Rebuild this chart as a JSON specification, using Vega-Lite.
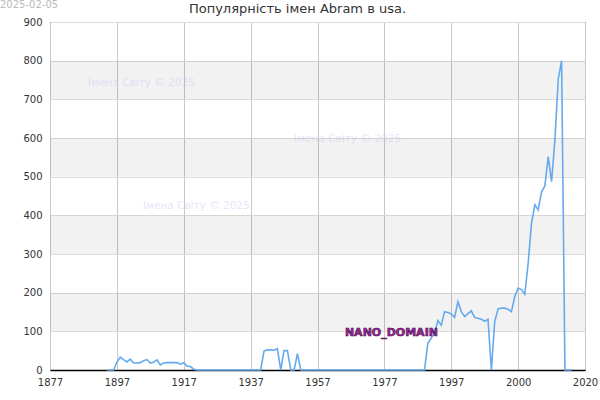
{
  "$schema": "https://vega.github.io/schema/vega-lite/v6.json",
  "autosize": {"type": "none"},
  "width": 535,
  "height": 348,
  "padding": {"left": 50, "top": 22, "right": 15, "bottom": 30},
  "background": "#ffffff",
  "title": {"text": "Популярність імен Abram в usa.", "fontSize": 13, "fontWeight": "normal", "color": "#333333", "dx": -20, "dy": 22, "offset": 6},
  "config": {
    "font": "DejaVu Sans",
    "view": {"stroke": "#000000", "strokeWidth": 1},
    "axis": {"labelFont": "DejaVu Sans", "labelFontSize": 10, "labelColor": "#333333", "ticks": false, "title": null},
    "axisY": {"labelOverlap": false, "labelFlush": false, "labelBound": false, "values": [0, 100, 200, 300, 400, 500, 600, 700, 800, 900], "gridColor": "#dddddd", "domain": false, "labelPadding": 8}
  },
  "datasets": {
    "series": [
      {"year": 1894, "value": 0}, {"year": 1895, "value": 0}, {"year": 1896, "value": 0}, {"year": 1897, "value": 20},
      {"year": 1898, "value": 33}, {"year": 1899, "value": 27}, {"year": 1900, "value": 21}, {"year": 1901, "value": 28},
      {"year": 1902, "value": 18}, {"year": 1903, "value": 18}, {"year": 1904, "value": 19}, {"year": 1905, "value": 24},
      {"year": 1906, "value": 27}, {"year": 1907, "value": 18}, {"year": 1908, "value": 20}, {"year": 1909, "value": 26},
      {"year": 1910, "value": 13}, {"year": 1911, "value": 18}, {"year": 1912, "value": 19}, {"year": 1913, "value": 19},
      {"year": 1914, "value": 19}, {"year": 1915, "value": 19}, {"year": 1916, "value": 15}, {"year": 1917, "value": 19},
      {"year": 1918, "value": 10}, {"year": 1919, "value": 9}, {"year": 1920, "value": 2}, {"year": 1921, "value": 0},
      {"year": 1922, "value": 0}, {"year": 1923, "value": 0}, {"year": 1924, "value": 0}, {"year": 1925, "value": 0},
      {"year": 1926, "value": 0}, {"year": 1927, "value": 0}, {"year": 1928, "value": 0}, {"year": 1929, "value": 0},
      {"year": 1930, "value": 0}, {"year": 1931, "value": 0}, {"year": 1932, "value": 0}, {"year": 1933, "value": 0},
      {"year": 1934, "value": 0}, {"year": 1935, "value": 0}, {"year": 1936, "value": 0}, {"year": 1937, "value": 0},
      {"year": 1938, "value": 0}, {"year": 1939, "value": 0}, {"year": 1940, "value": 0}, {"year": 1941, "value": 49},
      {"year": 1942, "value": 52}, {"year": 1943, "value": 52}, {"year": 1944, "value": 51}, {"year": 1945, "value": 55},
      {"year": 1946, "value": 0}, {"year": 1947, "value": 50}, {"year": 1948, "value": 50}, {"year": 1949, "value": 0},
      {"year": 1950, "value": 0}, {"year": 1951, "value": 42}, {"year": 1952, "value": 0}, {"year": 1953, "value": 0},
      {"year": 1954, "value": 0}, {"year": 1955, "value": 0}, {"year": 1956, "value": 0}, {"year": 1957, "value": 0},
      {"year": 1958, "value": 0}, {"year": 1959, "value": 0}, {"year": 1960, "value": 0}, {"year": 1961, "value": 0},
      {"year": 1962, "value": 0}, {"year": 1963, "value": 0}, {"year": 1964, "value": 0}, {"year": 1965, "value": 0},
      {"year": 1966, "value": 0}, {"year": 1967, "value": 0}, {"year": 1968, "value": 0}, {"year": 1969, "value": 0},
      {"year": 1970, "value": 0}, {"year": 1971, "value": 0}, {"year": 1972, "value": 0}, {"year": 1973, "value": 0},
      {"year": 1974, "value": 0}, {"year": 1975, "value": 0}, {"year": 1976, "value": 0}, {"year": 1977, "value": 0},
      {"year": 1978, "value": 0}, {"year": 1979, "value": 0}, {"year": 1980, "value": 0}, {"year": 1981, "value": 0},
      {"year": 1982, "value": 0}, {"year": 1983, "value": 0}, {"year": 1984, "value": 0}, {"year": 1985, "value": 0},
      {"year": 1986, "value": 0}, {"year": 1987, "value": 0}, {"year": 1988, "value": 0}, {"year": 1989, "value": 0},
      {"year": 1990, "value": 69}, {"year": 1991, "value": 82}, {"year": 1992, "value": 96}, {"year": 1993, "value": 128},
      {"year": 1994, "value": 116}, {"year": 1995, "value": 151}, {"year": 1996, "value": 149}, {"year": 1997, "value": 145},
      {"year": 1998, "value": 136}, {"year": 1999, "value": 177}, {"year": 2000, "value": 151}, {"year": 2001, "value": 138},
      {"year": 2002, "value": 146}, {"year": 2003, "value": 153}, {"year": 2004, "value": 136}, {"year": 2005, "value": 134},
      {"year": 2006, "value": 131}, {"year": 2007, "value": 126}, {"year": 2008, "value": 131}, {"year": 2009, "value": 0},
      {"year": 2010, "value": 125}, {"year": 2011, "value": 158}, {"year": 2012, "value": 160}, {"year": 2013, "value": 160},
      {"year": 2014, "value": 157}, {"year": 2015, "value": 151}, {"year": 2016, "value": 190}, {"year": 2017, "value": 212},
      {"year": 2018, "value": 208}, {"year": 2019, "value": 196}, {"year": 2020, "value": 276}, {"year": 2021, "value": 379},
      {"year": 2022, "value": 427}, {"year": 2023, "value": 414}, {"year": 2024, "value": 461}, {"year": 2025, "value": 476},
      {"year": 2026, "value": 552}, {"year": 2027, "value": 487}, {"year": 2028, "value": 595}, {"year": 2029, "value": 752},
      {"year": 2030, "value": 800}, {"year": 2031, "value": 0}, {"year": 2032, "value": 0}, {"year": 2033, "value": 0}
    ],
    "bands": [
      {"low": 100, "high": 200}, {"low": 300, "high": 400}, {"low": 500, "high": 600}, {"low": 700, "high": 800}
    ],
    "watermarks": [
      {"label": "Імена Світу © 2025", "year": 1888.4, "value": 742},
      {"label": "Імена Світу © 2025", "year": 1950.0, "value": 597},
      {"label": "Імена Світу © 2025", "year": 1904.8, "value": 424}
    ],
    "notes": [
      {"label": "NANO_DOMAIN", "year": 1965.2, "value": 96}
    ],
    "stamp": [
      {"label": "2025-02-05", "year": 1862.05, "value": 944}
    ]
  },
  "layer": [
    {
      "data": {"name": "bands"},
      "mark": {"type": "rect", "fill": "#000000", "fillOpacity": 0.05},
      "encoding": {
        "y": {"field": "low", "type": "quantitative", "scale": {"domain": [0, 900], "nice": false, "zero": true},
              "axis": {"grid": true}},
        "y2": {"field": "high"}
      }
    },
    {
      "data": {"name": "watermarks"},
      "mark": {"type": "text", "align": "left", "baseline": "middle", "fontSize": 10.5, "fill": "#c8c8f4", "opacity": 0.45},
      "encoding": {
        "x": {"field": "year", "type": "quantitative"},
        "y": {"field": "value", "type": "quantitative"},
        "text": {"field": "label"}
      }
    },
    {
      "data": {"name": "series"},
      "mark": {"type": "line", "color": "#66aaee", "strokeWidth": 1.6, "interpolate": "linear"},
      "encoding": {
        "x": {"field": "year", "type": "quantitative",
              "scale": {"domain": [1877, 2037], "nice": false, "zero": false},
              "axis": {"values": [1877, 1897, 1917, 1937, 1957, 1977, 1997, 2017, 2037], "format": "d",
                       "labelExpr": "datum.value == 2017 ? '2000' : datum.value == 2037 ? '2020' : datum.label",
                       "grid": true, "gridColor": "#c8c8c8", "domain": true, "domainColor": "#000000", "domainWidth": 1.5, "labelPadding": 7, "labelFlush": false, "labelOverlap": false}},
        "y": {"field": "value", "type": "quantitative"}
      }
    },
    {
      "data": {"name": "notes"},
      "mark": {"type": "text", "align": "left", "baseline": "middle", "fontSize": 11, "fontWeight": "bold", "fill": "#993399", "stroke": "#4d004d", "strokeWidth": 0.6},
      "encoding": {
        "x": {"field": "year", "type": "quantitative"},
        "y": {"field": "value", "type": "quantitative"},
        "text": {"field": "label"}
      }
    },
    {
      "data": {"name": "stamp"},
      "mark": {"type": "text", "align": "left", "baseline": "middle", "fontSize": 10, "fill": "#bbbbbb"},
      "encoding": {
        "x": {"field": "year", "type": "quantitative"},
        "y": {"field": "value", "type": "quantitative"},
        "text": {"field": "label"}
      }
    }
  ]
}
